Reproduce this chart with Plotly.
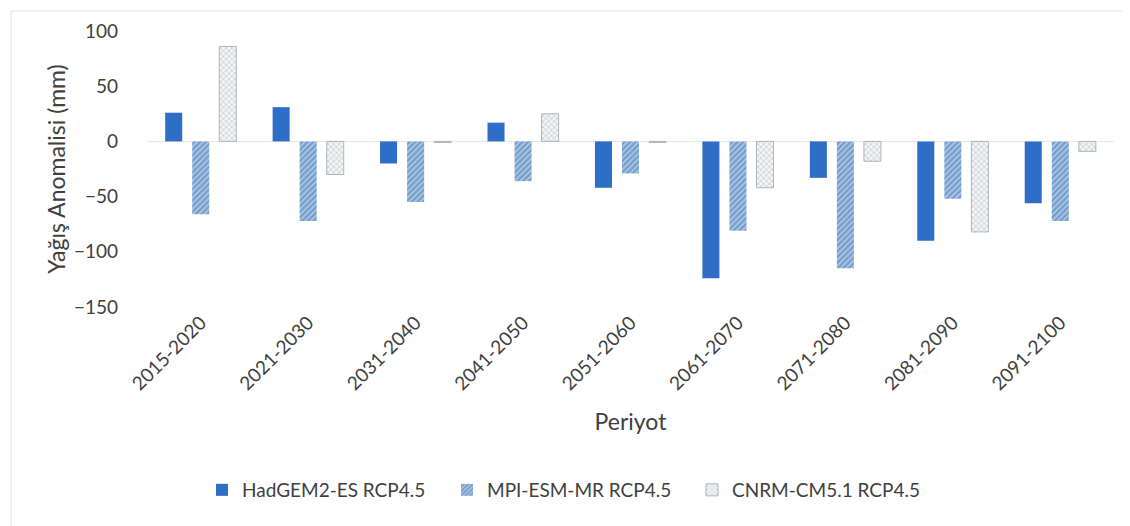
import plotly.graph_objects as go

periods = ["2015-2020", "2021-2030", "2031-2040", "2041-2050", "2051-2060",
           "2061-2070", "2071-2080", "2081-2090", "2091-2100"]
hadgem = [26, 31, -20, 17, -42, -124, -33, -90, -56]
mpi = [-66, -72, -55, -36, -29, -81, -115, -52, -72]
cnrm = [86, -30, -1, 25, -1, -42, -18, -82, -9]
y_ticks = [100, 50, 0, -50, -100, -150]

font_family = "Lato, 'Open Sans', sans-serif"
txt = "#404040"

fig = go.Figure()
fig.add_trace(go.Bar(
    x=periods, y=hadgem, name="HadGEM2-ES RCP4.5",
    marker=dict(color="#2f6ec6", line=dict(width=0)),
))
fig.add_trace(go.Bar(
    x=periods, y=mpi, name="MPI-ESM-MR RCP4.5",
    marker=dict(color="#8fb3d9", line=dict(width=0),
                pattern=dict(shape="/", fgcolor="#3a70ad", bgcolor="#a9c5e3",
                             size=4, solidity=0.5)),
))
fig.add_trace(go.Bar(
    x=periods, y=cnrm, name="CNRM-CM5.1 RCP4.5",
    marker=dict(color="#e8ecef", line=dict(width=1, color="#b0b4b8"),
                pattern=dict(shape="x", fgcolor="#8e959c", bgcolor="#f2f4f6",
                             size=4, solidity=0.3)),
))

W, H = 1130, 526
ml, mr, mt, mb = 139, 24, 23, 227
pw = W - ml - mr
ph = H - mt - mb
fig.update_layout(
    width=W, height=H,
    margin=dict(l=ml, r=mr, t=mt, b=mb),
    paper_bgcolor="white", plot_bgcolor="white",
    barmode="group", bargap=0.245, bargroupgap=0.37,
    font=dict(family=font_family, size=18, color=txt),
    showlegend=True,
    legend=dict(orientation="h", x=(194 - ml) / pw, y=-(482 - mt - ph) / ph,
                xanchor="left", yanchor="middle",
                font=dict(size=19, color=txt), traceorder="normal",
                entrywidth=200, entrywidthmode="pixels", itemwidth=30),
    xaxis=dict(
        tickangle=-45, tickfont=dict(size=19, color=txt),
        title=dict(text="Periyot", font=dict(size=23, color=txt), standoff=20),
        showline=False, showgrid=False, ticks="",
    ),
    yaxis=dict(
        range=[-150, 100], tickvals=y_ticks,
        tickfont=dict(size=19, color=txt),
        title=dict(text="Yağış Anomalisi (mm)", font=dict(size=23, color=txt), standoff=1),
        showgrid=False, zeroline=True, zerolinecolor="#e6e6e6", zerolinewidth=1,
        showline=False, ticks="", ticklabelstandoff=28,
    ),
)

fig.add_shape(type="rect", xref="paper", yref="paper",
              x0=(3 - ml) / pw, x1=(W - 3 - ml) / pw,
              y0=-(H - 3 - (mt + ph)) / ph,
              y1=1 + (mt - 3) / ph,
              line=dict(color="#e2e2e2", width=1), layer="below")

fig.write_html("out.html")
